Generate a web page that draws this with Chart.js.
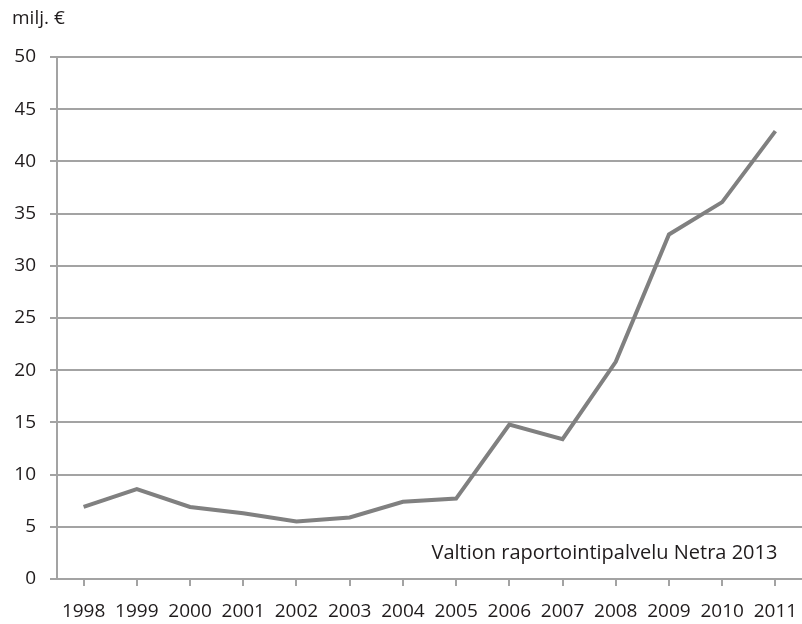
<!DOCTYPE html>
<html>
<head>
<meta charset="utf-8">
<script src="https://cdn.jsdelivr.net/npm/chart.js@4.4.1/dist/chart.umd.min.js"></script>
<style>
html,body{margin:0;padding:0;background:#fff;}
#wrap{width:802px;height:624px;position:relative;}
</style>
</head>
<body>
<div id="wrap"><canvas id="c" width="802" height="624"></canvas></div>
<script>
const years = ["1998","1999","2000","2001","2002","2003","2004","2005","2006","2007","2008","2009","2010","2011"];
const values = [6.9, 8.6, 6.9, 6.3, 5.5, 5.9, 7.4, 7.7, 14.8, 13.4, 20.8, 33.0, 36.1, 42.9];
const unitLabel = "milj. €";
const sourceLabel = "Valtion raportointipalvelu Netra 2013";

const FONT = "'Open Sans', sans-serif";
const TEXT = "#1f1b1c";
const GRID = "#a3a3a3";

const textPlugin = {
  id: 'texts',
  afterDraw(chart) {
    const ctx = chart.ctx;
    const x = chart.scales.x, y = chart.scales.y;
    ctx.save();
    ctx.fillStyle = TEXT;
    ctx.font = "19px " + FONT;
    ctx.textBaseline = 'middle';
    ctx.textAlign = 'left';
    ctx.fillText(unitLabel, 12, 19);
    ctx.font = "20px " + FONT;
    ctx.textAlign = 'right';
    ctx.fillText(sourceLabel, x.getPixelForValue(13) + 2, y.getPixelForValue(2.5));
    ctx.restore();
  }
};

new Chart(document.getElementById('c'), {
  type: 'line',
  data: {
    labels: years,
    datasets: [{
      data: values,
      borderColor: '#808080',
      borderWidth: 4,
      pointRadius: 0,
      tension: 0,
      fill: false
    }]
  },
  options: {
    responsive: false,
    animation: false,
    layout: { padding: { top: 57, right: 0, left: 15, bottom: 0 } },
    plugins: { legend: { display: false }, tooltip: { enabled: false } },
    scales: {
      x: {
        type: 'category',
        offset: true,
        grid: { display: true, drawOnChartArea: false, drawTicks: true, tickLength: 7, color: GRID, lineWidth: 2, offset: false },
        border: { display: true, color: GRID, width: 2 },
        ticks: { color: TEXT, font: { family: FONT, size: 19 }, padding: 14, maxRotation: 0, autoSkip: false },
        afterFit(s) { s.height = 45; s.paddingLeft = 0; s.paddingRight = 0; }
      },
      y: {
        min: 0, max: 50,
        grid: { color: GRID, lineWidth: 2, drawTicks: true, tickLength: 7 },
        border: { display: true, color: GRID, width: 2 },
        ticks: { stepSize: 5, color: TEXT, font: { family: FONT, size: 19 }, padding: 14 },
        afterFit(s) { s.width = 42; s.paddingTop = 0; s.paddingBottom = 0; }
      }
    }
  },
  plugins: [textPlugin]
});
</script>
</body>
</html>
